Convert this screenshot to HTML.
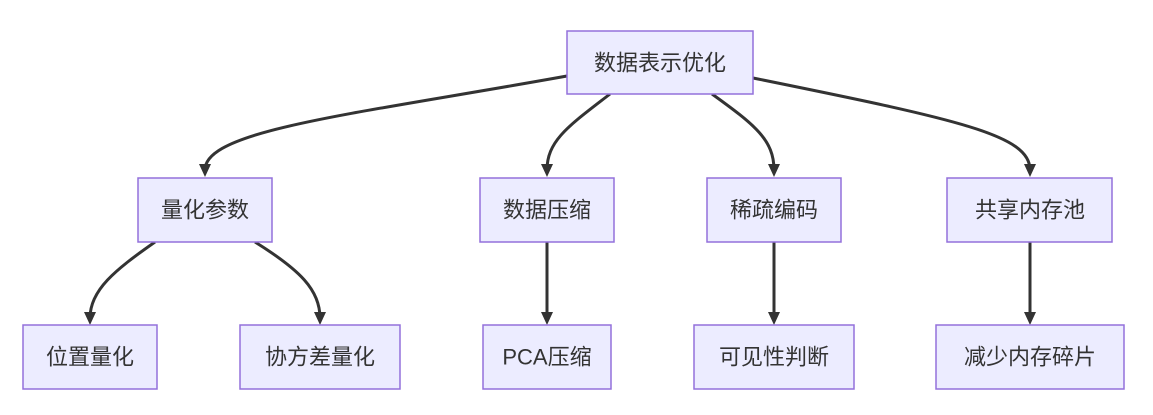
<!DOCTYPE html>
<html><head><meta charset="utf-8"><style>
html,body{margin:0;padding:0;background:#fff;width:1153px;height:415px;overflow:hidden}
text{font-family:"Liberation Sans","Noto Sans CJK SC",sans-serif;font-size:22px;fill:#333;text-anchor:middle;dominant-baseline:central}
rect{fill:#ECECFF;stroke:#9370DB;stroke-width:1.5}
path{fill:none;stroke:#333;stroke-width:3}
</style></head><body>
<svg width="1153" height="415" xmlns="http://www.w3.org/2000/svg">
<defs><marker id="a" markerWidth="10" markerHeight="10" refX="5" refY="8" orient="auto" markerUnits="userSpaceOnUse" viewBox="0 0 10 10"><path d="M0,0 L10,0 L5,10 Z" style="fill:#333;stroke:none" transform="rotate(0)"/></marker></defs>
<path d="M567,76 C350,115 205,130 205,170"/>
<polygon points="199,164 211,164 205,177" fill="#333"/>
<path d="M610,94 C570,125 547,140 547,170"/>
<polygon points="541,164 553,164 547,177" fill="#333"/>
<path d="M712,94 C755,125 774,140 774,170"/>
<polygon points="768,164 780,164 774,177" fill="#333"/>
<path d="M753,78 C960,120 1030,135 1030,170"/>
<polygon points="1024,164 1036,164 1030,177" fill="#333"/>
<path d="M155,242 C115,270 90,290 90,318"/>
<polygon points="84,312 96,312 90,325" fill="#333"/>
<path d="M255,242 C300,270 320,290 320,318"/>
<polygon points="314,312 326,312 320,325" fill="#333"/>
<path d="M547,242 L547,318"/>
<polygon points="541,312 553,312 547,325" fill="#333"/>
<path d="M774,242 L774,318"/>
<polygon points="768,312 780,312 774,325" fill="#333"/>
<path d="M1030,242 L1030,318"/>
<polygon points="1024,312 1036,312 1030,325" fill="#333"/>

<rect x="567" y="31" width="186" height="63"/><text x="660" y="63">数据表示优化</text>
<rect x="138" y="178" width="134" height="64"/><text x="205" y="210">量化参数</text>
<rect x="480" y="178" width="134" height="64"/><text x="547" y="210">数据压缩</text>
<rect x="707" y="178" width="134" height="64"/><text x="774" y="210">稀疏编码</text>
<rect x="947" y="178" width="165" height="64"/><text x="1030" y="210">共享内存池</text>
<rect x="23" y="325" width="134" height="64"/><text x="90" y="357">位置量化</text>
<rect x="240" y="325" width="160" height="64"/><text x="320" y="357">协方差量化</text>
<rect x="483" y="325" width="128" height="64"/><text x="547" y="357">PCA压缩</text>
<rect x="694" y="325" width="160" height="64"/><text x="774" y="357">可见性判断</text>
<rect x="936" y="325" width="188" height="64"/><text x="1030" y="357">减少内存碎片</text>
</svg>
</body></html>
